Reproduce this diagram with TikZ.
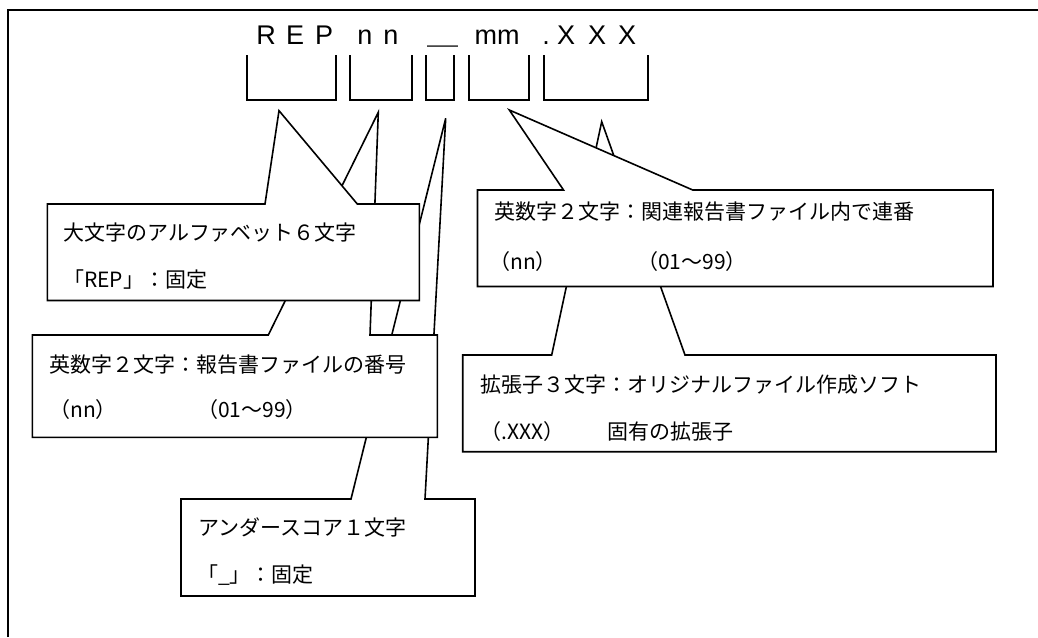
\documentclass[tikz,border=0pt]{standalone}
\usepackage{fontspec}
\setmainfont{Liberation Sans}
\newfontfamily\jp{Noto Sans CJK JP}
\tikzset{
  callout/.style={draw=black, fill=white, line width=1.6pt, line join=miter},
  jtext/.style={anchor=west, inner sep=0pt, font=\jp\fontsize{21pt}{24pt}\selectfont},
  fname/.style={anchor=base, inner sep=0pt, font=\fontsize{27pt}{30pt}\selectfont}
}
\begin{document}
\begin{tikzpicture}[x=1pt, y=-1pt]
                \useasboundingbox (0,0) rectangle (1038,637);
                \draw[black, line width=2.4pt] (8,637) -- (8,10) -- (1038,10);

                \foreach \x/\c [count=\i] in {266/R,295/E,324/P,365/n,391/n,497/mm,546/.,566/X,597/X,627/X}
                    \node[fname] (ch\i) at (\x,44) {\c};
                \node[fname, font=\jp\fontsize{31pt}{33pt}\selectfont] (chU) at (443,43) {＿};
                \foreach \a/\b in {246.7/336,350/411.7,426/454,469.3/529.3,544/648.3}
                    \draw[black, line width=1.8pt] (\a,55.3) |- (\b,100.3) -- (\b,55.3);

                \coordinate (tipREP) at (279,110.7);
                \coordinate (tipNN) at (378.3,112.3);
                \coordinate (tipUS) at (445.7,118.3);
                \coordinate (tipMM) at (509.3,110);
                \coordinate (tipEXT) at (601.7,121.7);

                \filldraw[callout] (181,499) -- (351,499) -- (tipUS) -- (425,499) -- (475,499) -- (475,596) -- (181,596) -- cycle;
                \filldraw[callout] (32.3,335) -- (268.3,335) -- (tipNN) -- (370,335) -- (437.3,335) -- (437.3,437.3) -- (32.3,437.3) -- cycle;
                \filldraw[callout] (47.3,204) -- (265,204) -- (tipREP) -- (357.3,204) -- (419.3,204) -- (419.3,300.5) -- (47.3,300.5) -- cycle;
                \filldraw[callout] (462.7,355) -- (551.7,355) -- (tipEXT) -- (685,355) -- (996,355) -- (996,451.7) -- (462.7,451.7) -- cycle;
                \filldraw[callout] (477.5,190) -- (563.5,190) -- (tipMM) -- (692.7,190) -- (993,190) -- (993,286.5) -- (477.5,286.5) -- cycle;

                \node[jtext] (repA) at (63,233) {大文字のアルファベット６文字};
                \node[jtext] (repB) at (63,280) {「REP」：固定};
                \node[jtext] (nnA) at (49,365) {英数字２文字：報告書ファイルの番号};
                \node[jtext] (nnB) at (49,410) {（nn）};
                \node[jtext] (nnC) at (197,410) {（01～99）};
                \node[jtext] (usA) at (198,527) {アンダースコア１文字};
                \node[jtext] (usB) at (197,575) {「\_」：固定};
                \node[jtext] (mmA) at (494,212) {英数字２文字：関連報告書ファイル内で連番};
                \node[jtext] (mmB) at (489,262) {（nn）};
                \node[jtext] (mmC) at (637,262) {（01～99）};
                \node[jtext] (extA) at (480,385) {拡張子３文字：オリジナルファイル作成ソフト};
                \node[jtext] (extB) at (480,432) {（.XXX）};
                \node[jtext] (extC) at (607,432) {固有の拡張子};
            \end{tikzpicture}
\end{document}
